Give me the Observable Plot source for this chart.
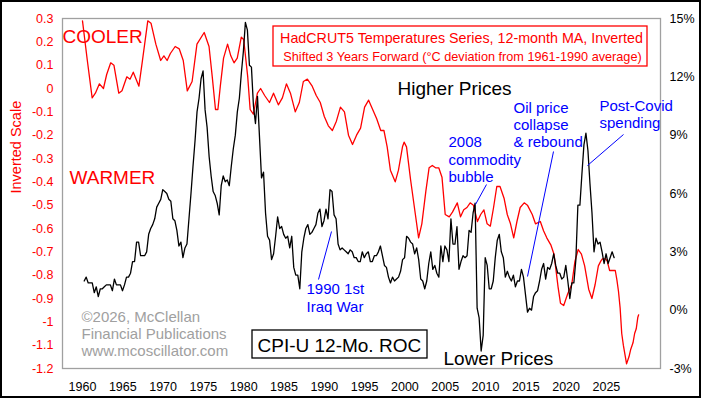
<!DOCTYPE html>
<html><head><meta charset="utf-8">
<script src="https://cdn.jsdelivr.net/npm/d3@7"></script>
<script src="https://cdn.jsdelivr.net/npm/@observablehq/plot@0.6"></script>
<style>
html,body{margin:0;padding:0;background:#fff;}
#chart{width:701px;height:398px;overflow:hidden;}
</style></head><body><div id="chart"></div>
<script>
// ---- DATA ----
const xTickYears = [1960,1965,1970,1975,1980,1985,1990,1995,2000,2005,2010,2015,2020,2025];
const tempTicks = [0.3,0.2,0.1,0,-0.1,-0.2,-0.3,-0.4,-0.5,-0.6,-0.7,-0.8,-0.9,-1,-1.1,-1.2];
const cpiTicks = [15,12,9,6,3,0,-3];

// HadCRUT5 12-mo MA, inverted, shifted 3 years forward: [year, value on left scale]
const tempPoints = [
 [1960.0,0.29],[1960.6,0.12],[1961.2,-0.04],[1961.6,-0.02],[1962.1,0.02],[1962.6,0.00],[1963.0,0.06],[1963.5,0.11],
 [1963.9,0.10],[1964.5,-0.02],[1964.9,-0.01],[1965.5,0.05],[1965.9,0.04],[1966.3,0.07],[1967.0,0.01],[1967.4,0.11],
 [1968.1,0.29],[1968.5,0.28],[1969.1,0.19],[1969.7,0.12],[1970.1,0.14],[1970.5,0.12],[1970.9,0.15],[1971.5,0.18],
 [1972.0,0.17],[1972.5,0.12],[1973.0,-0.01],[1973.6,0.03],[1974.2,0.19],[1975.1,0.24],[1975.7,0.18],[1976.1,0.05],
 [1976.5,-0.09],[1976.8,-0.09],[1977.1,0.01],[1977.5,0.13],[1978.0,0.19],[1978.4,0.14],[1978.8,0.11],[1979.2,0.13],
 [1979.7,0.22],[1980.0,0.21],[1980.5,0.05],[1980.8,-0.09],[1981.2,-0.11],[1981.7,-0.02],[1982.1,0.00],
 [1982.6,-0.03],[1983.2,-0.06],[1983.7,-0.02],[1984.3,-0.07],[1984.8,-0.04],[1985.3,0.02],[1985.8,-0.02],
 [1986.4,-0.10],[1986.9,-0.06],[1987.4,0.03],[1987.9,0.04],[1988.5,0.01],[1989.0,-0.03],[1989.5,-0.06],
 [1990.0,-0.12],[1990.5,-0.16],[1991.0,-0.18],[1991.5,-0.14],[1992.0,-0.08],[1992.5,-0.10],[1993.0,-0.20],
 [1993.5,-0.24],[1994.0,-0.20],[1994.5,-0.17],[1995.0,-0.08],[1995.5,-0.05],[1996.0,-0.09],[1996.5,-0.13],
 [1997.0,-0.18],[1997.4,-0.18],[1997.8,-0.25],[1998.2,-0.35],[1998.8,-0.40],[1999.2,-0.35],[1999.7,-0.25],
 [1999.9,-0.23],[2000.2,-0.25],[2000.7,-0.39],[2001.3,-0.54],[2001.7,-0.64],[2002.1,-0.58],[2002.6,-0.44],
 [2003.0,-0.34],[2003.4,-0.33],[2003.8,-0.34],[2004.2,-0.34],[2004.6,-0.38],[2005.0,-0.54],[2005.5,-0.55],
 [2005.9,-0.53],[2006.5,-0.49],[2006.9,-0.55],[2007.3,-0.52],[2007.7,-0.51],[2008.1,-0.49],[2008.5,-0.50],
 [2009.0,-0.57],[2009.4,-0.54],[2009.8,-0.52],[2010.2,-0.58],[2010.6,-0.59],[2011.0,-0.51],[2011.4,-0.42],
 [2011.8,-0.42],[2012.3,-0.47],[2012.7,-0.54],[2013.1,-0.58],[2013.5,-0.64],[2013.9,-0.57],[2014.3,-0.51],
 [2014.8,-0.49],[2015.2,-0.50],[2015.8,-0.54],[2016.2,-0.58],[2016.8,-0.57],[2017.2,-0.61],[2017.6,-0.64],
 [2018.1,-0.67],[2018.5,-0.71],[2019.0,-0.85],[2019.3,-0.92],[2019.7,-0.93],[2020.2,-0.88],[2020.7,-0.84],
 [2021.1,-0.74],[2021.5,-0.69],[2021.9,-0.71],[2022.3,-0.76],[2022.8,-0.86],[2023.2,-0.90],[2023.6,-0.84],
 [2024.0,-0.76],[2024.3,-0.74],[2024.5,-0.73],[2024.9,-0.73],[2025.1,-0.74],[2025.4,-0.78],[2025.9,-0.78],
 [2026.1,-0.78],[2026.3,-0.82],[2026.5,-0.87],[2026.7,-0.94],[2026.9,-1.05],[2027.1,-1.10],[2027.5,-1.18],
 [2027.8,-1.15],[2028.0,-1.12],[2028.3,-1.09],[2028.5,-1.05],[2028.7,-1.03],[2028.9,-0.98],[2029.0,-0.97]
];

// CPI-U 12-month rate of change (%), quarterly readings per year from 1960
const cpiStartYear = 1960;
const cpiValues = [
 1.5,1.7,1.4,1.4,  1.4,0.9,1.2,0.7,  1.1,1.1,1.2,1.3,  1.3,1.3,1.0,1.6,  1.3,1.3,1.3,1.0,
 1.3,1.7,1.7,1.9,  2.5,2.5,3.5,3.5,  2.8,2.8,2.8,3.0,  3.9,4.2,4.4,4.7,  5.3,5.5,5.7,6.2,
 6.1,6.0,5.7,5.6,  4.7,4.6,4.1,3.3,  3.5,2.7,3.2,3.4,  4.7,6.0,7.4,8.7,  10.2,10.9,11.9,12.3,
 10.3,9.4,7.9,6.9, 6.1,5.9,5.5,4.9,  6.4,6.9,6.6,6.7,  6.4,7.4,8.3,9.0,  10.2,10.9,12.2,13.3,
 14.8,14.4,12.6,12.5, 10.5,9.6,11.0,8.9, 6.8,7.1,5.0,3.8, 3.6,2.6,2.9,3.8, 4.8,4.2,4.3,3.9,
 3.7,3.8,3.2,3.8,  2.2,1.8,1.8,1.1,  3.0,3.7,4.2,4.4,  3.9,4.0,4.2,4.4,  5.0,5.2,4.3,4.6,
 5.2,4.7,6.2,6.1,  4.9,4.7,3.4,3.1,  3.2,3.1,3.0,2.9,  3.1,3.0,2.7,2.7,  2.5,2.5,3.0,2.7,
 2.9,3.0,2.5,2.5,  2.8,2.8,3.0,3.3,  2.8,2.3,2.2,1.7,  1.4,1.7,1.5,1.6,  1.7,2.0,2.6,2.7,
 3.8,3.7,3.5,3.4,  2.9,3.2,2.6,1.6,  1.5,1.1,1.5,2.4,  3.0,2.1,2.3,1.9,  1.7,3.3,2.5,3.3,
 3.1,2.5,4.7,3.4,  3.4,4.3,2.1,2.5,  2.8,2.7,2.8,4.1,  4.0,5.0,5.5,0.1,  -0.4,-2.1,-1.3,2.7,
 2.3,1.1,1.1,1.5,  2.7,3.6,3.9,3.0,  2.7,1.7,2.0,1.7,  1.5,1.8,1.2,1.5,  1.5,2.1,1.7,0.8,
 -0.1,0.1,0.0,0.7, 0.9,1.0,1.5,2.1,  2.4,1.6,2.2,2.1,  2.4,2.9,2.3,1.9,  1.9,1.6,1.7,2.3,
 1.5,0.6,1.4,1.4,  2.6,5.4,5.4,7.0,  8.5,9.1,8.2,6.5,  5.0,3.0,3.7,3.4,  3.5,3.0,2.4,2.9,
 2.4,2.7,3.0,2.7
];

// ---- SCALES ----
const xDomain = [1957.52, 2031.71];
const yDomain = [-1.2, 0.3];
const cpiToTemp = d3.scaleLinear().domain([-3, 15]).range(yDomain);
const pxX = d3.scaleLinear().domain([62, 660]).range(xDomain);
const pxY = d3.scaleLinear().domain([368, 18]).range(yDomain);

const temp = tempPoints.map(([t, v]) => ({t, v}));
const cpi = cpiValues.map((p, i) => ({t: cpiStartYear + Math.floor(i / 4) + 0.21 + 0.25 * (i % 4), v: cpiToTemp(p)}));

const FONT = "'Liberation Sans', Arial, Helvetica, sans-serif";
const labels = [
 {px: 62, py: 42, text: "COOLER", fill: "#ff0000", size: 19},
 {px: 69, py: 183, text: "WARMER", fill: "#ff0000", size: 19},
 {px: 397, py: 94, text: "Higher Prices", fill: "#000", size: 19},
 {px: 443, py: 364, text: "Lower Prices", fill: "#000", size: 19},
 {px: 257, py: 351, text: "CPI-U 12-Mo. ROC", fill: "#000", size: 19},
 {px: 81, py: 321, text: "©2026, McClellan", fill: "#a0a0a0", size: 15},
 {px: 81, py: 338, text: "Financial Publications", fill: "#a0a0a0", size: 15},
 {px: 81, py: 355, text: "www.mcoscillator.com", fill: "#a0a0a0", size: 15},
 {px: 306, py: 293, text: "1990 1st", fill: "#0000ff", size: 15},
 {px: 306, py: 311, text: "Iraq War", fill: "#0000ff", size: 15},
 {px: 448, py: 146, text: "2008", fill: "#0000ff", size: 15},
 {px: 448, py: 164, text: "commodity", fill: "#0000ff", size: 15},
 {px: 448, py: 181, text: "bubble", fill: "#0000ff", size: 15},
 {px: 513, py: 112, text: "Oil price", fill: "#0000ff", size: 15},
 {px: 513, py: 129, text: "collapse", fill: "#0000ff", size: 15},
 {px: 513, py: 146, text: "& rebound", fill: "#0000ff", size: 15},
 {px: 599, py: 110, text: "Post-Covid", fill: "#0000ff", size: 15},
 {px: 599, py: 127, text: "spending", fill: "#0000ff", size: 15}
];
const titleLines = [
 {px: 461, py: 42, text: "HadCRUT5 Temperatures Series, 12-month MA, Inverted", size: 14.3},
 {px: 462, py: 60, text: "Shifted 3 Years Forward (°C deviation from 1961-1990 average)", size: 12.7}
];
const leaders = [
 {x1: 331, y1: 231, x2: 318, y2: 279},
 {x1: 486, y1: 184, x2: 475, y2: 204},
 {x1: 553, y1: 151, x2: 527, y2: 276},
 {x1: 623, y1: 134, x2: 587, y2: 165}
];
const boxes = [
 {x1: 273, y1: 26, x2: 647, y2: 66, stroke: "#ff0000"},
 {x1: 252, y1: 330, x2: 427, y2: 358, stroke: "#000"}
];

const textMarks = labels.map(d => Plot.text([d], {
  x: pxX(d.px), y: pxY(d.py), text: "text", fill: d.fill, fontSize: d.size,
  textAnchor: "start", lineAnchor: "bottom", fontFamily: FONT
}));
const titleMarks = titleLines.map(d => Plot.text([d], {
  x: pxX(d.px), y: pxY(d.py), text: "text", fill: "#ff0000", fontSize: d.size,
  textAnchor: "middle", lineAnchor: "bottom", fontFamily: FONT
}));

const fmtTemp = d => { const r = Math.round(d * 10) / 10; return r === 0 ? "0" : String(r); };
const fmtCpi = d => Math.round(cpiToTemp.invert(d)) + "%";

const chart = Plot.plot({
  width: 701, height: 398,
  marginLeft: 62, marginRight: 41, marginTop: 18, marginBottom: 30,
  style: {fontFamily: FONT, background: "#fff", overflow: "visible"},
  x: {domain: xDomain},
  y: {domain: yDomain},
  marks: [
    Plot.frame({stroke: "#a0a0a0", strokeWidth: 1.3}),
    Plot.axisX({ticks: xTickYears, tickSize: 0, tickPadding: 14, tickFormat: d => String(d), fontSize: 12.5, color: "#000", label: null}),
    Plot.axisY({ticks: tempTicks, anchor: "left", tickSize: 0, tickPadding: 9, tickFormat: fmtTemp, fontSize: 12.5, color: "#ff0000", label: null}),
    Plot.axisY({ticks: cpiTicks.map(p => cpiToTemp(p)), anchor: "right", tickSize: 0, tickPadding: 9, tickFormat: fmtCpi, fontSize: 12.5, color: "#000", textAnchor: "start", label: null}),
    Plot.text(["Inverted Scale"], {frameAnchor: "left", dx: -46, rotate: -90, text: d => d, fill: "#ff0000", fontSize: 14.5, fontFamily: FONT}),
    Plot.rect(boxes, {x1: d => pxX(d.x1), x2: d => pxX(d.x2), y1: d => pxY(d.y1), y2: d => pxY(d.y2), fill: "none", stroke: d => d.stroke, strokeWidth: 1.3}),
    Plot.line(temp, {x: "t", y: "v", stroke: "#ff0000", strokeWidth: 1.3}),
    Plot.line(cpi, {x: "t", y: "v", stroke: "#000", strokeWidth: 1.3}),
    Plot.link(leaders, {x1: d => pxX(d.x1), y1: d => pxY(d.y1), x2: d => pxX(d.x2), y2: d => pxY(d.y2), stroke: "#0000ff", strokeWidth: 1}),
    ...textMarks,
    ...titleMarks
  ]
});
d3.select(chart).append("rect").attr("x", 1).attr("y", 1).attr("width", 699).attr("height", 396)
  .attr("fill", "none").attr("stroke", "#000").attr("stroke-width", 2);
document.getElementById("chart").appendChild(chart);
</script></body></html>
